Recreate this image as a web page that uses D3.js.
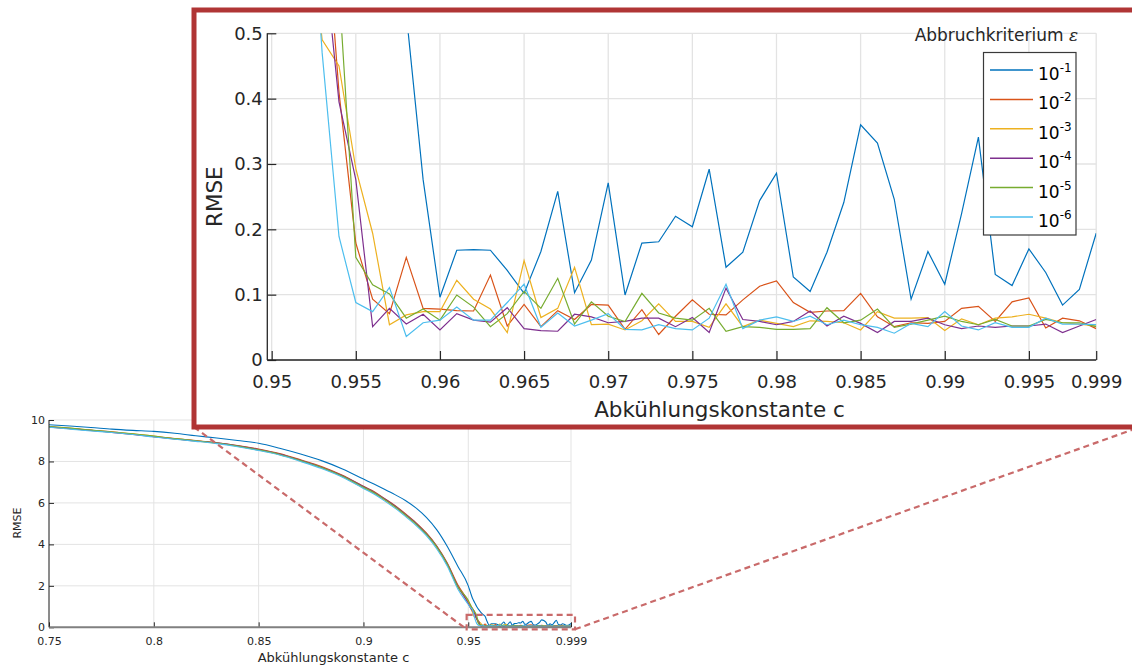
<!DOCTYPE html>
<html lang="de">
<head>
<meta charset="UTF-8">
<title>RMSE vs. Abkühlungskonstante</title>
<script src="https://d3js.org/d3.v7.min.js"></script>
<style>
    body { margin: 0; background: #fff; }
    svg { display: block; font-family: "DejaVu Sans", Verdana, sans-serif; }
</style>
</head>
<body>
<script>
    // ---- data ----
    const exponents = [-1, -2, -3, -4, -5, -6];
    const colors = ["#0072BD", "#D95319", "#EDB120", "#7E2F8E", "#77AC30", "#4DBEEE"];

    const mainXTicks = [0.75, 0.8, 0.85, 0.9, 0.95, 0.999];
    const mainYTicks = [0, 2, 4, 6, 8, 10];
    const insetXTicks = [0.95, 0.955, 0.96, 0.965, 0.97, 0.975, 0.98, 0.985, 0.99, 0.995, 0.999];
    const insetYTicks = [0, 0.1, 0.2, 0.3, 0.4, 0.5];

    // coarse samples of the big drop (0.75 .. 0.945)
    const cCoarse = [0.75, 0.76, 0.77, 0.78, 0.79, 0.80, 0.81, 0.82, 0.83, 0.84, 0.85, 0.86, 0.87,
        0.88, 0.89, 0.90, 0.905, 0.91, 0.915, 0.92, 0.925, 0.93, 0.935, 0.94, 0.945];
    const e1Coarse = [9.77, 9.71, 9.64, 9.56, 9.50, 9.45, 9.36, 9.24, 9.13, 9.01, 8.88, 8.64, 8.36,
        8.04, 7.64, 7.15, 6.91, 6.66, 6.40, 6.12, 5.76, 5.30, 4.70, 3.90, 2.95];
    const e2Coarse = [9.66, 9.58, 9.50, 9.43, 9.31, 9.20, 9.11, 9.01, 8.90, 8.77, 8.60, 8.38, 8.08,
        7.76, 7.33, 6.80, 6.55, 6.22, 5.88, 5.48, 5.05, 4.55, 3.92, 3.10, 2.05];
    const e3Coarse = [9.68, 9.61, 9.52, 9.41, 9.33, 9.22, 9.09, 8.99, 8.88, 8.73, 8.55, 8.33, 8.03,
        7.70, 7.27, 6.72, 6.47, 6.15, 5.80, 5.40, 4.97, 4.47, 3.85, 3.02, 1.92];
    const e4Coarse = [9.67, 9.59, 9.50, 9.40, 9.30, 9.19, 9.08, 8.99, 8.90, 8.76, 8.58, 8.36, 8.06,
        7.72, 7.31, 6.79, 6.52, 6.20, 5.85, 5.45, 5.02, 4.52, 3.90, 3.06, 1.98];
    const e5Coarse = [9.69, 9.61, 9.51, 9.42, 9.33, 9.22, 9.10, 9.00, 8.89, 8.74, 8.56, 8.34, 8.04,
        7.71, 7.29, 6.76, 6.49, 6.17, 5.82, 5.42, 4.99, 4.49, 3.87, 3.04, 1.96];
    const e6Coarse = [9.65, 9.56, 9.47, 9.40, 9.30, 9.18, 9.07, 8.97, 8.86, 8.71, 8.53, 8.31, 8.00,
        7.66, 7.24, 6.70, 6.43, 6.10, 5.75, 5.35, 4.92, 4.42, 3.78, 2.95, 1.85];

    // fine samples (0.950 .. 0.999, step 0.001)
    const cFine = [0.950, 0.951, 0.952, 0.953, 0.954, 0.955, 0.956, 0.957, 0.958, 0.959,
        0.960, 0.961, 0.962, 0.963, 0.964, 0.965, 0.966, 0.967, 0.968, 0.969,
        0.970, 0.971, 0.972, 0.973, 0.974, 0.975, 0.976, 0.977, 0.978, 0.979,
        0.980, 0.981, 0.982, 0.983, 0.984, 0.985, 0.986, 0.987, 0.988, 0.989,
        0.990, 0.991, 0.992, 0.993, 0.994, 0.995, 0.996, 0.997, 0.998, 0.999];
    const e1Fine = [2.0, 1.7, 1.4, 1.2, 1.0, 0.85, 0.72, 0.62, 0.53, 0.276,
        0.096, 0.168, 0.169, 0.168, 0.137, 0.102, 0.166, 0.258, 0.103, 0.153,
        0.271, 0.0995, 0.179, 0.181, 0.220, 0.204, 0.292, 0.142, 0.165, 0.244,
        0.286, 0.127, 0.105, 0.165, 0.241, 0.360, 0.332, 0.246, 0.093, 0.166,
        0.116, 0.224, 0.341, 0.131, 0.114, 0.170, 0.134, 0.084, 0.108, 0.194];
    const e2Fine = [1.25, 1.05, 0.9, 0.75, 0.41, 0.179, 0.093, 0.071, 0.157, 0.079,
        0.078, 0.0755, 0.075, 0.130, 0.052, 0.085, 0.051, 0.0755, 0.062, 0.085,
        0.084, 0.047, 0.077, 0.039, 0.067, 0.092, 0.070, 0.069, 0.092, 0.113,
        0.121, 0.088, 0.073, 0.075, 0.0755, 0.102, 0.066, 0.051, 0.057, 0.056,
        0.059, 0.079, 0.082, 0.059, 0.089, 0.095, 0.049, 0.064, 0.060, 0.048];
    const e3Fine = [1.2, 0.95, 0.72, 0.49, 0.45, 0.293, 0.194, 0.054, 0.069, 0.074,
        0.074, 0.122, 0.093, 0.078, 0.042, 0.152, 0.065, 0.079, 0.142, 0.054,
        0.055, 0.046, 0.060, 0.086, 0.059, 0.059, 0.050, 0.086, 0.051, 0.061,
        0.056, 0.051, 0.060, 0.059, 0.057, 0.046, 0.074, 0.064, 0.064, 0.065,
        0.045, 0.063, 0.054, 0.064, 0.066, 0.070, 0.064, 0.057, 0.055, 0.052];
    const e4Fine = [1.15, 0.95, 0.8, 0.65, 0.395, 0.276, 0.051, 0.079, 0.055, 0.070,
        0.046, 0.071, 0.061, 0.058, 0.080, 0.048, 0.045, 0.044, 0.070, 0.066,
        0.057, 0.059, 0.064, 0.064, 0.051, 0.065, 0.042, 0.110, 0.062, 0.059,
        0.054, 0.059, 0.075, 0.052, 0.067, 0.056, 0.042, 0.059, 0.059, 0.064,
        0.054, 0.048, 0.052, 0.050, 0.052, 0.052, 0.055, 0.042, 0.052, 0.062];
    const e5Fine = [1.3, 1.1, 0.9, 0.75, 0.57, 0.157, 0.115, 0.101, 0.064, 0.078,
        0.061, 0.0995, 0.081, 0.051, 0.071, 0.105, 0.079, 0.125, 0.055, 0.089,
        0.067, 0.059, 0.102, 0.072, 0.064, 0.061, 0.079, 0.044, 0.051, 0.050,
        0.047, 0.047, 0.048, 0.080, 0.057, 0.061, 0.078, 0.050, 0.055, 0.061,
        0.067, 0.059, 0.054, 0.062, 0.052, 0.052, 0.062, 0.057, 0.057, 0.051];
    const e6Fine = [1.1, 0.95, 0.85, 0.47, 0.189, 0.088, 0.074, 0.111, 0.036, 0.057,
        0.061, 0.081, 0.061, 0.061, 0.088, 0.116, 0.050, 0.072, 0.052, 0.061,
        0.071, 0.047, 0.046, 0.054, 0.048, 0.046, 0.064, 0.116, 0.048, 0.061,
        0.066, 0.059, 0.067, 0.054, 0.061, 0.054, 0.050, 0.041, 0.056, 0.051,
        0.074, 0.052, 0.046, 0.057, 0.050, 0.050, 0.064, 0.055, 0.055, 0.054];

    const coarseValues = [e1Coarse, e2Coarse, e3Coarse, e4Coarse, e5Coarse, e6Coarse];
    const fineValues = [e1Fine, e2Fine, e3Fine, e4Fine, e5Fine, e6Fine];
    const cAll = cCoarse.concat(cFine);

    const series = exponents.map((e, i) => {
        let vals = coarseValues[i].concat(fineValues[i]);
        return { exp: e, color: colors[i], points: cAll.map((c, j) => ({ c: c, v: vals[j] })) };
    });

    let width = 1132;
    let height = 666;
    const textColor = "#262626";
    const gridColor = "#e3e3e3";
    const dashColor = "#c96a6a";

    let svg = d3.select("body").append("svg")
        .attr("width", width)
        .attr("height", height);

    // ---- main (full range) chart ----
    let xMain = d3.scaleLinear().domain([0.75, 0.999]).range([49, 571]);
    let yMain = d3.scaleLinear().domain([0, 10]).range([627.3, 420]);

    let gMain = svg.append("g");
    gMain.selectAll(".vgrid").data(mainXTicks).enter().append("line")
        .attr("x1", d => xMain(d)).attr("x2", d => xMain(d))
        .attr("y1", yMain(10)).attr("y2", yMain(0))
        .style("stroke", gridColor).style("stroke-width", 1);
    gMain.selectAll(".hgrid").data(mainYTicks).enter().append("line")
        .attr("x1", xMain(0.75)).attr("x2", xMain(0.999))
        .attr("y1", d => yMain(d)).attr("y2", d => yMain(d))
        .style("stroke", gridColor).style("stroke-width", 1);

    let lineMain = d3.line().curve(d3.curveMonotoneX).x(d => xMain(d.c)).y(d => yMain(d.v));
    gMain.selectAll(".series").data(series).enter().append("path")
        .attr("d", d => lineMain(d.points))
        .style("fill", "none")
        .style("stroke", d => d.color)
        .style("stroke-width", 1.1);

    let axMainX = gMain.append("g")
        .attr("transform", `translate(0,${yMain(0)})`)
        .call(d3.axisBottom(xMain).tickValues(mainXTicks).tickFormat(d => String(d)).tickSize(-5).tickPadding(10));
    let axMainY = gMain.append("g")
        .attr("transform", `translate(${xMain(0.75)},0)`)
        .call(d3.axisLeft(yMain).tickValues(mainYTicks).tickFormat(d => String(d)).tickSize(-5).tickPadding(4));
    [axMainX, axMainY].forEach(ax => {
        ax.select(".domain").remove();
        ax.selectAll("line").style("stroke", textColor);
        ax.selectAll("text").style("font-size", "11px").style("fill", textColor)
            .style("font-family", "DejaVu Sans, sans-serif");
    });
    gMain.append("line")
        .attr("x1", xMain(0.75)).attr("x2", xMain(0.999))
        .attr("y1", yMain(0)).attr("y2", yMain(0))
        .style("stroke", "#808080").style("stroke-width", 2);
    gMain.append("line")
        .attr("x1", xMain(0.75)).attr("x2", xMain(0.75))
        .attr("y1", yMain(10)).attr("y2", yMain(0))
        .style("stroke", textColor).style("stroke-width", 1);

    gMain.append("text")
        .attr("x", 333.5).attr("y", 662)
        .attr("text-anchor", "middle")
        .style("font-size", "13px").style("fill", textColor)
        .text("Abkühlungskonstante c");
    gMain.append("text")
        .attr("transform", "translate(21,523) rotate(-90)")
        .attr("text-anchor", "middle")
        .style("font-size", "11px").style("fill", textColor)
        .text("RMSE");

    // ---- zoom marker + connectors ----
    let zx0 = xMain(0.9497) - 1, zx1 = xMain(0.999) + 4;
    let zy0 = yMain(0.5) - 2, zy1 = yMain(0) + 2;
    svg.append("rect")
        .attr("x", zx0).attr("y", zy0)
        .attr("width", zx1 - zx0).attr("height", zy1 - zy0)
        .style("fill", "none").style("stroke", dashColor)
        .style("stroke-width", 2.2).style("stroke-dasharray", "6,4");
    svg.append("line")
        .attr("x1", 194).attr("y1", 427).attr("x2", zx0).attr("y2", zy1)
        .style("stroke", dashColor).style("stroke-width", 2.2).style("stroke-dasharray", "6,4");
    svg.append("line")
        .attr("x1", zx1).attr("y1", zy1).attr("x2", 1140).attr("y2", 427)
        .style("stroke", dashColor).style("stroke-width", 2.2).style("stroke-dasharray", "6,4");

    // ---- inset (zoomed) chart ----
    let gIn = svg.append("g");
    gIn.append("rect")
        .attr("x", 194).attr("y", 10).attr("width", 1000).attr("height", 417)
        .style("fill", "#fff").style("stroke", "#b03535").style("stroke-width", 5);

    let xIn = d3.scaleLinear().domain([0.94974, 0.999]).range([267.3, 1096.2]);
    let yIn = d3.scaleLinear().domain([0, 0.5]).range([360, 33.3]);

    gIn.selectAll(".vgrid").data(insetXTicks).enter().append("line")
        .attr("x1", d => xIn(d)).attr("x2", d => xIn(d))
        .attr("y1", yIn(0.5)).attr("y2", yIn(0))
        .style("stroke", gridColor).style("stroke-width", 1.3);
    gIn.selectAll(".hgrid").data(insetYTicks).enter().append("line")
        .attr("x1", xIn.range()[0]).attr("x2", xIn.range()[1])
        .attr("y1", d => yIn(d)).attr("y2", d => yIn(d))
        .style("stroke", gridColor).style("stroke-width", 1.3);

    svg.append("clipPath").attr("id", "insetClip").append("rect")
        .attr("x", xIn.range()[0]).attr("y", yIn(0.5))
        .attr("width", xIn.range()[1] - xIn.range()[0])
        .attr("height", yIn(0) - yIn(0.5));

    let lineIn = d3.line().x(d => xIn(d.c)).y(d => yIn(d.v));
    gIn.append("g").attr("clip-path", "url(#insetClip)")
        .selectAll("path").data(series).enter().append("path")
        .attr("d", d => lineIn(d.points.filter(p => p.c >= 0.94)))
        .style("fill", "none")
        .style("stroke", d => d.color)
        .style("stroke-width", 1.2);

    let axInX = gIn.append("g")
        .attr("transform", `translate(0,${yIn(0)})`)
        .call(d3.axisBottom(xIn).tickValues(insetXTicks).tickFormat(d => String(d)).tickSize(-9).tickPadding(15));
    let axInY = gIn.append("g")
        .attr("transform", `translate(${xIn.range()[0]},0)`)
        .call(d3.axisLeft(yIn).tickValues(insetYTicks).tickFormat(d => String(d)).tickSize(-9).tickPadding(4.5));
    [axInX, axInY].forEach(ax => {
        ax.select(".domain").remove();
        ax.selectAll("line").style("stroke", textColor).style("stroke-width", 1.2);
        ax.selectAll("text").style("font-size", "18px").style("fill", textColor)
            .style("font-family", "DejaVu Sans, sans-serif");
    });
    gIn.append("line")
        .attr("x1", xIn.range()[0]).attr("x2", xIn.range()[1])
        .attr("y1", yIn(0)).attr("y2", yIn(0))
        .style("stroke", textColor).style("stroke-width", 1.3);
    gIn.append("line")
        .attr("x1", xIn.range()[0]).attr("x2", xIn.range()[0])
        .attr("y1", yIn(0.5)).attr("y2", yIn(0))
        .style("stroke", textColor).style("stroke-width", 1.3);

    gIn.append("text")
        .attr("x", 719.5).attr("y", 417)
        .attr("text-anchor", "middle")
        .style("font-size", "21.5px").style("fill", textColor)
        .text("Abkühlungskonstante c");
    gIn.append("text")
        .attr("transform", "translate(221.7,196.7) rotate(-90)")
        .attr("text-anchor", "middle")
        .style("font-size", "21.5px").style("fill", textColor)
        .text("RMSE");

    // legend
    let legTitle = gIn.append("text")
        .attr("x", 1078).attr("y", 41)
        .attr("text-anchor", "end")
        .style("font-size", "17px").style("fill", textColor)
        .text("Abbruchkriterium ");
    legTitle.append("tspan")
        .style("font-style", "italic").style("font-family", "DejaVu Serif, serif")
        .text("ε");

    gIn.append("rect")
        .attr("x", 983.5).attr("y", 52.5).attr("width", 92.5).attr("height", 182.5)
        .style("fill", "#fff").style("stroke", "#3a3a3a").style("stroke-width", 1.2);

    let legRows = gIn.selectAll(".leg").data(series).enter().append("g")
        .attr("transform", (d, i) => `translate(0,${70 + i * 29.4})`);
    legRows.append("line")
        .attr("x1", 990).attr("x2", 1033).attr("y1", 0).attr("y2", 0)
        .style("stroke", d => d.color).style("stroke-width", 1.5);
    let legText = legRows.append("text")
        .attr("x", 1038).attr("y", 10)
        .style("font-size", "17px").style("fill", "#000");
    legText.append("tspan").text("10");
    legText.append("tspan")
        .attr("dy", -8).style("font-size", "12px")
        .text(d => String(d.exp));
</script>
</body>
</html>
